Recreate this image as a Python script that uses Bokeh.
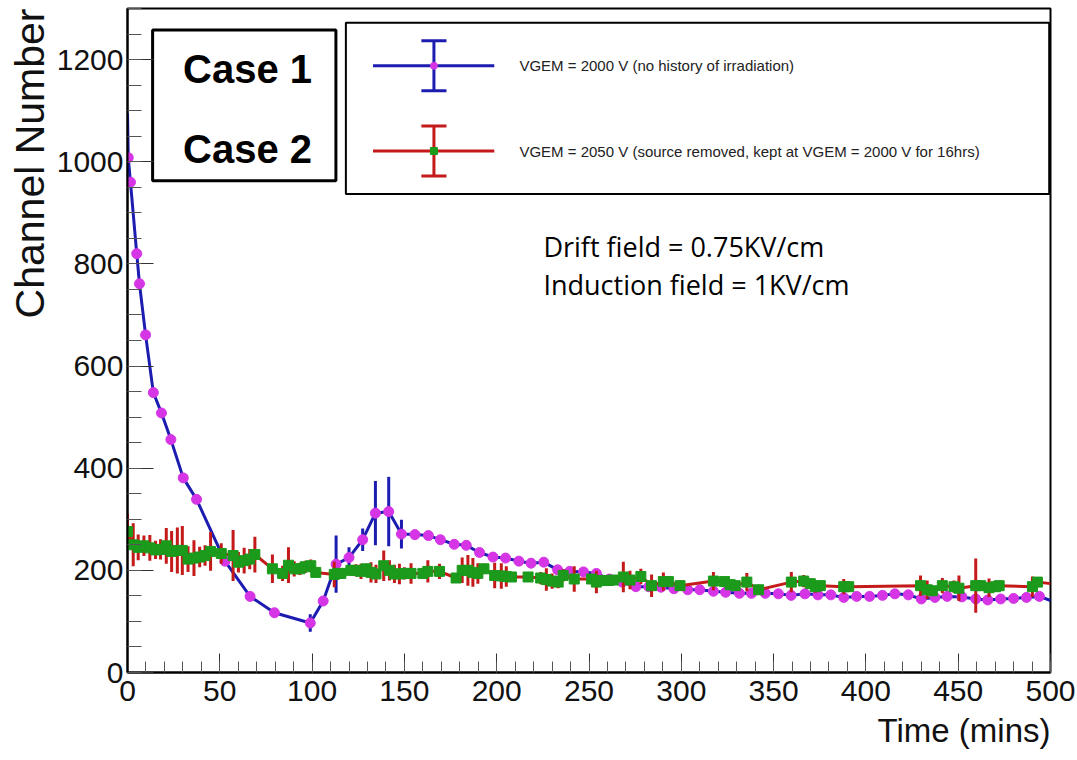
import numpy as np
from bokeh.plotting import figure
from bokeh.models import Range1d, FixedTicker, Label, BoxAnnotation, Title
from bokeh.embed import file_html
from bokeh.resources import INLINE

# ---------------- data ----------------
case1_time = [0.4, 1.6, 5, 6.5, 9.8, 14, 18.4, 23.5, 30.2, 37.4,
              52.8, 66.4, 79.6, 99, 106, 113, 120, 127.4, 134.3, 141.5,
              148.4, 155.7, 163, 169.5, 177, 183.5, 190.7, 198, 204.8, 212,
              218.6, 225.5, 233, 239.6, 247, 254, 261, 268, 275.4, 282.4,
              289, 296, 303.5, 310, 317.4, 324, 331.5, 338, 345.5, 352.6,
              359.5, 367, 374, 381, 388, 395, 402, 409, 415.7, 423,
              430, 437.4, 444, 452, 459.5, 466, 473, 480, 487, 494]
case1_channel = [1008, 960, 820, 761, 661, 548, 508, 456, 381, 339,
                 218, 149, 117, 97, 140, 212, 225, 260, 312, 315,
                 271, 270, 268, 260, 251, 249, 235, 226, 224, 218,
                 214, 216, 201, 198, 197, 194, 183, 177, 168, 168,
                 167, 164, 162, 162, 159, 157, 155, 155, 155, 154,
                 151, 154, 152, 152, 147, 149, 149, 151, 154, 152,
                 144, 147, 149, 148, 144, 142, 144, 145, 147, 149]
case1_error = [5, 5, 5, 5, 5, 5, 5, 5, 5, 5,
               5, 5, 5, 17, 5, 56, 20, 22, 63, 68,
               28, 5, 5, 5, 5, 5, 5, 5, 5, 5,
               5, 5, 5, 5, 5, 5, 5, 5, 5, 5,
               5, 5, 5, 5, 5, 5, 5, 5, 5, 5,
               5, 5, 5, 5, 5, 5, 5, 5, 5, 5,
               5, 5, 5, 5, 5, 5, 5, 5, 5, 5]
case1_curve_ends = [1095, 141]   # curve value at t=0 and t=500

case2_time = [0, 3.1, 5.8, 8.9, 12.1, 15.2, 17.9, 21, 23.9, 27,
              29.7, 32.8, 36, 39.1, 42, 45, 50.8, 57.2, 60.1, 63.2,
              66.2, 69, 78.5, 84, 87.2, 90.3, 93.4, 96.3, 99.3, 102,
              112, 113.8, 115.6, 121, 123.8, 126.5, 129.2, 131.9, 134.6, 138.8,
              141.9, 144.6, 147.3, 150, 153.6, 160, 162.7, 169, 178, 181.3,
              184.4, 187.1, 189.8, 193.1, 198.9, 202.5, 205.2, 208, 217, 223.8,
              226.9, 230, 233.3, 236, 242, 251.4, 254, 256.8, 260.4, 263.1,
              268.6, 272.2, 278.1, 283.9, 290.3, 293, 299.3, 317.4, 323.4, 326.5,
              329.2, 335.5, 341.9, 359.6, 366.3, 369.9, 372.6, 375.3, 388, 390.7,
              429.6, 433.2, 436, 441.4, 447.7, 450.4, 459.5, 462.2, 466.7, 470.3,
              472.2, 490.2, 492.9]
case2_channel = [276, 250, 245, 248, 244, 240, 241, 248, 237, 239,
                 239, 222, 224, 226, 229, 237, 233, 229, 216, 219,
                 222, 231, 203, 194, 210, 203, 203, 207, 209, 196,
                 192, 194, 194, 200, 200, 198, 203, 196, 193, 209,
                 200, 193, 193, 194, 194, 194, 198, 198, 185, 200,
                 200, 196, 194, 203, 190, 189, 188, 187, 187, 185,
                 182, 179, 177, 190, 183, 183, 177, 180, 180, 181,
                 187, 181, 188, 170, 178, 178, 170, 179, 178, 172,
                 170, 177, 162, 177, 179, 174, 168, 170, 168, 168,
                 170, 162, 160, 170, 168, 165, 170, 170, 166, 168,
                 170, 168, 177]
case2_error = [35, 42, 25, 20, 25, 18, 20, 35, 40, 45,
               48, 25, 35, 20, 20, 38, 20, 50, 20, 25,
               20, 35, 28, 15, 35, 15, 12, 12, 12, 10,
               25, 10, 8, 10, 12, 15, 10, 20, 18, 30,
               20, 18, 20, 12, 20, 10, 22, 15, 10, 25,
               30, 28, 20, 10, 25, 25, 20, 10, 10, 12,
               22, 15, 12, 12, 25, 8, 22, 10, 10, 10,
               30, 18, 15, 22, 18, 10, 10, 18, 10, 10,
               10, 18, 10, 20, 12, 10, 12, 10, 15, 10,
               20, 18, 10, 15, 12, 25, 53, 10, 18, 10,
               10, 20, 10]
case2_curve_end = 174            # curve value at t=500

x_ticks = list(range(0, 501, 50))
x_minor = list(range(0, 501, 10))
y_ticks = list(range(0, 1201, 200))
y_minor = list(range(0, 1301, 50))

legend_labels = ["VGEM = 2000 V (no history of irradiation)",
                 "VGEM = 2050 V (source removed, kept at VGEM = 2000 V for 16hrs)"]
case_labels = ["Case 1", "Case 2"]
field_labels = ["Drift field = 0.75KV/cm", "Induction field = 1KV/cm"]

BLUE = "#1c1cb0"
RED = "#c41a1a"
GREEN = "#1b9a1b"
MAGENTA = "#d535e5"

# ---------------- figure ----------------
p = figure(width=1077, height=760,
           x_range=Range1d(0, 500), y_range=Range1d(0, 1300),
           output_backend="svg", toolbar_location=None,
           min_border_left=127, min_border_right=27,
           min_border_top=8, min_border_bottom=88)
p.xgrid.visible = False
p.ygrid.visible = False
p.outline_line_color = "black"
p.outline_line_width = 2
p.outline_line_alpha = 1.0
p.background_fill_color = "white"
p.border_fill_color = "white"

p.xaxis.ticker = FixedTicker(ticks=x_ticks, minor_ticks=x_minor)
p.yaxis.ticker = FixedTicker(ticks=y_ticks, minor_ticks=y_minor)
for ax in (p.xaxis[0], p.yaxis[0]):
    ax.axis_line_color = "black"
    ax.axis_line_width = 2
    ax.major_tick_out = 0
    ax.minor_tick_out = 0
    ax.major_tick_line_color = "#333333"
    ax.minor_tick_line_color = "#555555"
    ax.major_label_text_font = "Liberation Sans"
    ax.major_label_text_font_size = "30px"
    ax.major_label_text_color = "#111111"
p.xaxis.major_tick_in = 19
p.xaxis.minor_tick_in = 11
p.xaxis.major_label_standoff = 8
p.yaxis.major_tick_in = 26
p.yaxis.minor_tick_in = 14
p.yaxis.major_label_standoff = 4

# axis titles (ROOT style: aligned to the far end of each axis)
p.add_layout(Title(text="Channel Number", align="right",
                   text_font="Liberation Sans", text_font_size="41px",
                   text_font_style="normal", text_color="#111111",
                   standoff=2), "left")
p.add_layout(Title(text="Time (mins)", align="right",
                   text_font="Liberation Sans", text_font_size="33px",
                   text_font_style="normal", text_color="#111111",
                   standoff=12), "below")

# ---------------- case 1 ----------------
c1_lo = [c - e for c, e in zip(case1_channel, case1_error)]
c1_hi = [c + e for c, e in zip(case1_channel, case1_error)]
p.segment(x0=case1_time, y0=c1_lo, x1=case1_time, y1=c1_hi,
          line_color=BLUE, line_width=3)
c1_line_x = [0] + case1_time + [500]
c1_line_y = [case1_curve_ends[0]] + case1_channel + [case1_curve_ends[1]]
p.line(c1_line_x, c1_line_y, line_color=BLUE, line_width=3)
p.scatter(case1_time, case1_channel, marker="circle", size=10,
          fill_color=MAGENTA, line_color=MAGENTA)

# ---------------- case 2 ----------------
c2_lo = [c - e for c, e in zip(case2_channel, case2_error)]
c2_hi = [c + e for c, e in zip(case2_channel, case2_error)]
p.segment(x0=case2_time, y0=c2_lo, x1=case2_time, y1=c2_hi,
          line_color=RED, line_width=3)
c2_line_x = case2_time + [500]
c2_line_y = case2_channel + [case2_curve_end]
p.line(c2_line_x, c2_line_y, line_color=RED, line_width=3)
p.scatter(case2_time, case2_channel, marker="square", size=10,
          fill_color=GREEN, line_color=GREEN)

# ---------------- case box ----------------
p.add_layout(BoxAnnotation(left=13.6, right=112.9, top=1258, bottom=963,
                           fill_color="white", fill_alpha=1.0,
                           line_color="black", line_alpha=1.0,
                           line_width=3, level="underlay"))
for txt, yy in zip(case_labels, [1182, 1025]):
    p.add_layout(Label(x=65, y=yy, text=txt, text_align="center",
                       text_baseline="middle", text_font="Liberation Sans",
                       text_font_style="bold", text_font_size="40px",
                       text_color="black"))

# ---------------- legend ----------------
p.add_layout(BoxAnnotation(left=118.3, right=499.3, top=1272, bottom=937,
                           fill_color="white", fill_alpha=1.0,
                           line_color="black", line_alpha=1.0,
                           line_width=2, level="underlay"))
leg_y = [1188, 1021]
leg_cols = [BLUE, RED]
leg_fill = [MAGENTA, GREEN]
leg_marker = ["circle", "square"]
for yy, lc, fc, mk, txt in zip(leg_y, leg_cols, leg_fill, leg_marker, legend_labels):
    p.segment(x0=[133], y0=[yy], x1=[198.7], y1=[yy], line_color=lc, line_width=3)
    p.segment(x0=[166], y0=[yy - 49], x1=[166], y1=[yy + 49], line_color=lc, line_width=3)
    p.segment(x0=[159.2, 159.2], y0=[yy - 49, yy + 49], x1=[172.8, 172.8],
              y1=[yy - 49, yy + 49], line_color=lc, line_width=3)
    p.scatter([166], [yy], marker=mk, size=7, fill_color=fc, line_color=fc)
    p.add_layout(Label(x=212.3, y=yy, text=txt, text_align="left",
                       text_baseline="middle", text_font="Liberation Sans",
                       text_font_size="15px", text_color="#222222"))

# ---------------- annotations ----------------
for txt, yy in zip(field_labels, [834, 759]):
    p.add_layout(Label(x=225.3, y=yy, text=txt, text_align="left",
                       text_baseline="middle", text_font="Open Sans",
                       text_font_size="27px", text_color="black"))

open("out.html", "w").write(file_html(p, INLINE))
